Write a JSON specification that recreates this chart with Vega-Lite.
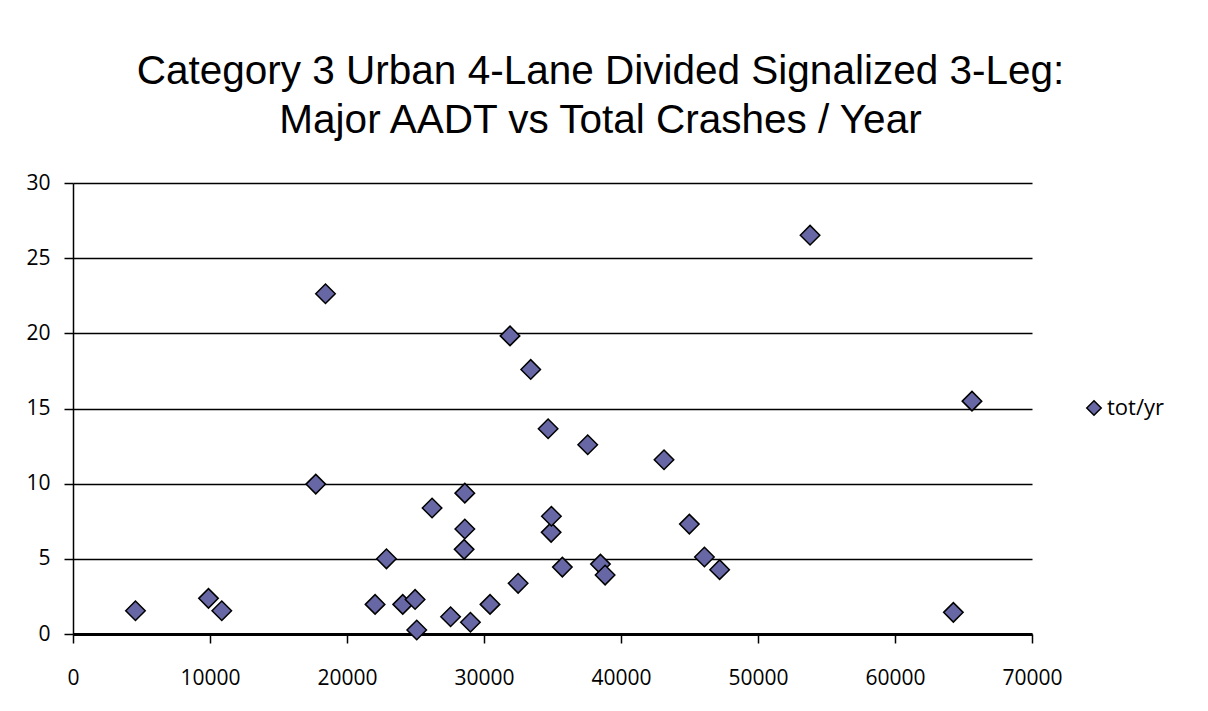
{
  "$schema": "https://vega.github.io/schema/vega-lite/v6.json",
  "width": 959,
  "height": 451,
  "autosize": "none",
  "padding": {"left": 73, "top": 183, "right": 176, "bottom": 77},
  "background": "white",
  "title": {
    "text": ["Category 3 Urban 4-Lane Divided Signalized 3-Leg:", "Major AADT vs Total Crashes / Year"],
    "font": "Liberation Sans",
    "fontSize": 40.5,
    "fontWeight": "normal",
    "color": "black",
    "lineHeight": 49,
    "anchor": "middle",
    "frame": "group",
    "dx": 48,
    "offset": 31
  },
  "data": {
    "values": [
      {"aadt": 4560, "crashes": 1.55, "series": "tot/yr"},
      {"aadt": 9890, "crashes": 2.37, "series": "tot/yr"},
      {"aadt": 10860, "crashes": 1.55, "series": "tot/yr"},
      {"aadt": 17720, "crashes": 9.97, "series": "tot/yr"},
      {"aadt": 18430, "crashes": 22.63, "series": "tot/yr"},
      {"aadt": 22050, "crashes": 1.97, "series": "tot/yr"},
      {"aadt": 22880, "crashes": 5.0, "series": "tot/yr"},
      {"aadt": 24070, "crashes": 1.97, "series": "tot/yr"},
      {"aadt": 24970, "crashes": 2.3, "series": "tot/yr"},
      {"aadt": 25090, "crashes": 0.27, "series": "tot/yr"},
      {"aadt": 26210, "crashes": 8.38, "series": "tot/yr"},
      {"aadt": 27560, "crashes": 1.15, "series": "tot/yr"},
      {"aadt": 28550, "crashes": 5.63, "series": "tot/yr"},
      {"aadt": 28600, "crashes": 6.98, "series": "tot/yr"},
      {"aadt": 28600, "crashes": 9.37, "series": "tot/yr"},
      {"aadt": 29010, "crashes": 0.78, "series": "tot/yr"},
      {"aadt": 30440, "crashes": 1.97, "series": "tot/yr"},
      {"aadt": 31900, "crashes": 19.83, "series": "tot/yr"},
      {"aadt": 32490, "crashes": 3.37, "series": "tot/yr"},
      {"aadt": 33410, "crashes": 17.6, "series": "tot/yr"},
      {"aadt": 34680, "crashes": 13.65, "series": "tot/yr"},
      {"aadt": 34900, "crashes": 6.76, "series": "tot/yr"},
      {"aadt": 34920, "crashes": 7.83, "series": "tot/yr"},
      {"aadt": 35720, "crashes": 4.45, "series": "tot/yr"},
      {"aadt": 37570, "crashes": 12.59, "series": "tot/yr"},
      {"aadt": 38500, "crashes": 4.65, "series": "tot/yr"},
      {"aadt": 38840, "crashes": 3.92, "series": "tot/yr"},
      {"aadt": 43140, "crashes": 11.59, "series": "tot/yr"},
      {"aadt": 44990, "crashes": 7.31, "series": "tot/yr"},
      {"aadt": 46090, "crashes": 5.12, "series": "tot/yr"},
      {"aadt": 47200, "crashes": 4.28, "series": "tot/yr"},
      {"aadt": 53800, "crashes": 26.53, "series": "tot/yr"},
      {"aadt": 64260, "crashes": 1.44, "series": "tot/yr"},
      {"aadt": 65620, "crashes": 15.49, "series": "tot/yr"}
    ]
  },
  "mark": {"type": "point", "filled": true, "size": 380, "stroke": "black", "strokeWidth": 1.5, "opacity": 1, "clip": false},
  "encoding": {
    "x": {
      "field": "aadt",
      "type": "quantitative",
      "scale": {"domain": [0, 70000], "nice": false, "zero": true},
      "axis": {
        "title": null,
        "values": [0, 10000, 20000, 30000, 40000, 50000, 60000, 70000],
        "format": "d",
        "grid": false,
        "domainColor": "black",
        "domainWidth": 3,
        "tickColor": "black",
        "tickWidth": 1.5,
        "tickSize": 9,
        "labelPadding": 24,
        "labelFont": "Open Sans",
        "labelFontSize": 21,
        "labelColor": "black",
        "labelFlush": false
      }
    },
    "y": {
      "field": "crashes",
      "type": "quantitative",
      "scale": {"domain": [0, 30], "nice": false},
      "axis": {
        "title": null,
        "values": [0, 5, 10, 15, 20, 25, 30],
        "grid": true,
        "gridColor": "black",
        "gridWidth": 1.5,
        "gridOpacity": 1,
        "domainColor": "black",
        "domainWidth": 1.5,
        "tickColor": "black",
        "tickWidth": 1.5,
        "tickSize": 9,
        "labelPadding": 14,
        "labelFont": "Open Sans",
        "labelFontSize": 21,
        "labelColor": "black"
      }
    },
    "color": {
      "field": "series",
      "type": "nominal",
      "scale": {"range": ["#6767A5"]},
      "legend": {
        "title": null,
        "orient": "none",
        "legendX": 1010,
        "legendY": 214,
        "padding": 0,
        "symbolSize": 210,
        "symbolStrokeColor": "black",
        "symbolStrokeWidth": 1.5,
        "symbolOpacity": 1,
        "labelFont": "Open Sans",
        "labelFontSize": 22,
        "labelColor": "black",
        "labelOffset": 2
      }
    },
    "shape": {
      "field": "series",
      "type": "nominal",
      "scale": {"range": ["diamond"]},
      "legend": null
    }
  },
  "config": {
    "view": {"stroke": null}
  }
}
